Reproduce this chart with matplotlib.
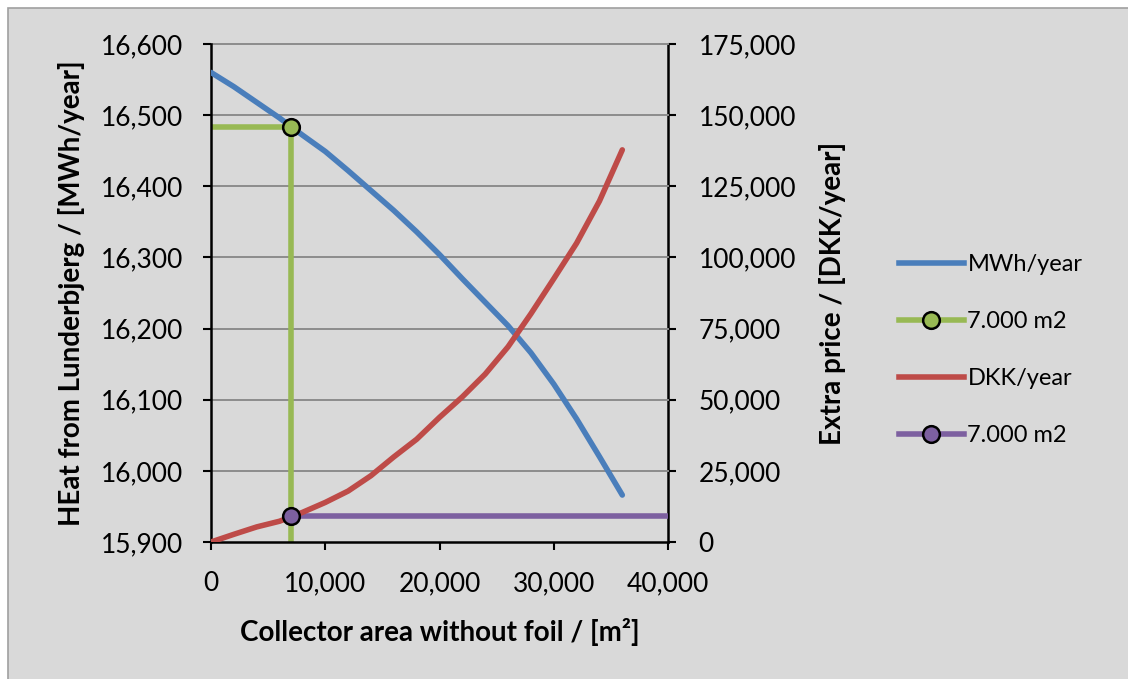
import matplotlib.pyplot as plt
from matplotlib.patches import Rectangle
from matplotlib.ticker import FuncFormatter

plt.rcParams['font.family'] = ['Lato', 'DejaVu Sans']

# collector area [m2]
area = [0, 2000, 4000, 6000, 8000, 10000, 12000, 14000, 16000, 18000,
        20000, 22000, 24000, 26000, 28000, 30000, 32000, 34000, 36000]
# heat from Lunderbjerg [MWh/year]
heat = [16560, 16540, 16518, 16496, 16472, 16449, 16422, 16394, 16366, 16336,
        16304, 16270, 16237, 16204, 16166, 16122, 16073, 16020, 15966]
# extra price [DKK/year]
price = [0, 2700, 5300, 7300, 10400, 13900, 17900, 23300, 29900, 36100,
         43800, 51000, 59000, 68600, 80200, 92500, 105000, 119800, 137800]

# 7.000 m2 reference lines
green_x = [0, 7000, 7000]
green_y = [16483, 16483, 15900]
purple_x = [7000, 40000]
purple_y = [9000, 9000]

blue = '#4a7ebb'
red = '#be4b48'
green = '#98b954'
purple = '#7d60a0'
bg = '#d9d9d9'

fig = plt.figure(figsize=(11.28, 6.79), dpi=100, facecolor='white')
fig.patches.append(Rectangle((8 / 1128, -0.05), 1.1, 1 - 8 / 679 + 0.05,
                             transform=fig.transFigure, facecolor=bg,
                             edgecolor='#a0a0a0', linewidth=1.2, zorder=-10))

ax = fig.add_axes([211 / 1128, 1 - 542 / 679, 457 / 1128, 498 / 679])
ax2 = ax.twinx()
ax.set_zorder(ax2.get_zorder() + 1)
ax.patch.set_visible(False)
ax2.patch.set_facecolor('white')

fmt = FuncFormatter(lambda v, p: f'{v:,.0f}')

ax.set_xlim(0, 40000)
ax.set_ylim(15900, 16600)
ax2.set_ylim(0, 175000)
ax.set_xticks(range(0, 40001, 10000))
ax.set_yticks(range(15900, 16601, 100))
ax2.set_yticks(range(0, 175001, 25000))
ax.xaxis.set_major_formatter(fmt)
ax.yaxis.set_major_formatter(fmt)
ax2.yaxis.set_major_formatter(fmt)

for y in range(16000, 16601, 100):
    ax.axhline(y, color='#8c8c8c', linewidth=1.4, zorder=0, clip_on=False)

ax.plot(area, heat, color=blue, linewidth=4, solid_capstyle='round', zorder=3)
ax.plot(green_x, green_y, color=green, linewidth=4, zorder=2)
ax.plot(green_x[1], green_y[1], 'o', color=green, markersize=12,
        markeredgecolor='black', markeredgewidth=1.8, zorder=6)

# price series belong to the right axis; convert to left-axis units so they share one zorder stack
to_left = lambda v: 15900 + v * 700 / 175000
ax.plot(area, [to_left(v) for v in price], color=red, linewidth=4,
        solid_capstyle='round', zorder=3)
ax.plot(purple_x, [to_left(v) for v in purple_y], color=purple, linewidth=4, zorder=2)
ax.plot(purple_x[0], to_left(purple_y[0]), 'o', color=purple, markersize=12,
        markeredgecolor='black', markeredgewidth=1.8, zorder=6)

for a in (ax, ax2):
    for s in a.spines.values():
        s.set_visible(False)
    a.tick_params(labelsize=19, length=6, width=1.5, color='black')
ax.spines['left'].set_visible(True)
ax.spines['left'].set_linewidth(1.8)
ax.spines['bottom'].set_visible(True)
ax.spines['bottom'].set_linewidth(1.8)
ax2.spines['right'].set_visible(True)
ax2.spines['right'].set_linewidth(1.8)
ax.tick_params(axis='x', pad=15)
ax.tick_params(axis='y', pad=14)
ax2.tick_params(axis='y', pad=16)

ax.set_xlabel('Collector area without foil / [m²]', fontsize=20, fontweight='bold')
ax.set_ylabel('HEat from Lunderbjerg / [MWh/year]', fontsize=20, fontweight='bold')
ax2.set_ylabel('Extra price / [DKK/year]', fontsize=20, fontweight='bold')
ax.xaxis.set_label_coords(0.501, -0.181)
ax.yaxis.set_label_coords(-0.305, 0.5)
ax2.yaxis.set_label_coords(1.359, 0.5)
ax.xaxis.label.set_va('center')
ax.yaxis.label.set_va('center')
ax2.yaxis.label.set_va('center')

# legend
handles = [
    plt.Line2D([], [], color=blue, linewidth=4),
    plt.Line2D([], [], color=green, linewidth=4, marker='o', markersize=12,
               markerfacecolor=green, markeredgecolor='black', markeredgewidth=1.8),
    plt.Line2D([], [], color=red, linewidth=4),
    plt.Line2D([], [], color=purple, linewidth=4, marker='o', markersize=12,
               markerfacecolor=purple, markeredgecolor='black', markeredgewidth=1.8),
]
labels = ['MWh/year', '7.000 m2', 'DKK/year', '7.000 m2']
fig.legend(handles, labels, loc='center left', bbox_to_anchor=(899 / 1128, 1 - 350 / 679),
           frameon=False, fontsize=17, handlelength=2.75, handletextpad=0.15,
           labelspacing=1.53, borderpad=0, borderaxespad=0)

fig.savefig('out.png', dpi=100, facecolor=fig.get_facecolor())
